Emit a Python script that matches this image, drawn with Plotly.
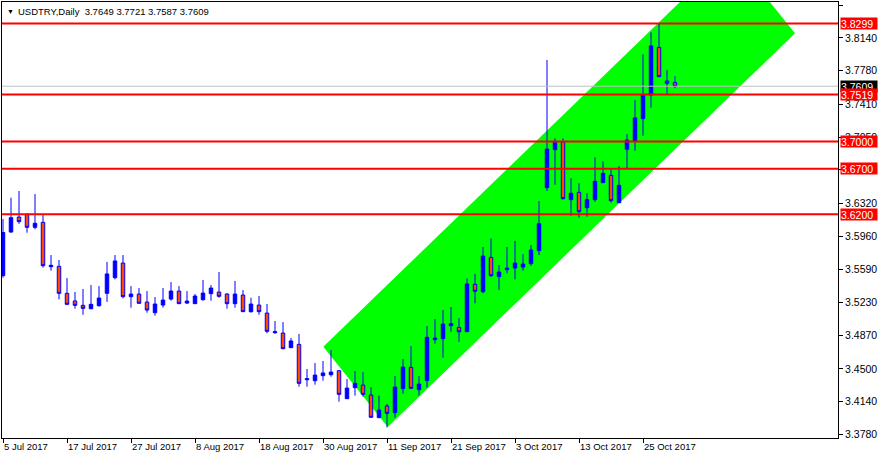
import plotly.graph_objects as go

# ---- data (USDTRY daily, 5 Jul 2017 - 31 Oct 2017) ----
open_ = [3.5525, 3.6005, 3.6170, 3.6200, 3.6057, 3.6112, 3.5624, 3.5628, 3.5331, 3.5247,
         3.5199, 3.5162, 3.5195, 3.5331, 3.5503, 3.5664, 3.5294, 3.5323, 3.5235, 3.5118,
         3.5202, 3.5268, 3.5356, 3.5224, 3.5217, 3.5261, 3.5327, 3.5345, 3.5323, 3.5217,
         3.5312, 3.5129, 3.5202, 3.5114, 3.4898, 3.4894, 3.4733, 3.4770, 3.4380, 3.4370,
         3.4425, 3.4436, 3.4480, 3.4172, 3.4293, 3.4322, 3.4212, 3.3963, 3.4091, 3.4018,
         3.4282, 3.4517, 3.4271, 3.4370, 3.4821, 3.4832, 3.4975, 3.4957, 3.4909, 3.5430,
         3.5349, 3.5727, 3.5514, 3.5591, 3.5609, 3.5620, 3.5657, 3.5800, 3.6493, 3.6911,
         3.6996, 3.6361, 3.6442, 3.6273, 3.6361, 3.6548, 3.6629, 3.6328, 3.6915, 3.7010,
         3.7252, 3.7512, 3.8037, 3.7667, 3.7649]
high = [3.6149, 3.6383, 3.6457, 3.6211, 3.6423, 3.6200, 3.5752, 3.5697, 3.5499, 3.5346,
        3.5378, 3.5422, 3.5411, 3.5676, 3.5752, 3.5752, 3.5411, 3.5389, 3.5356, 3.5290,
        3.5389, 3.5455, 3.5411, 3.5356, 3.5323, 3.5478, 3.5422, 3.5565, 3.5334, 3.5467,
        3.5367, 3.5283, 3.5301, 3.5213, 3.5026, 3.5015, 3.4840, 3.4884, 3.4498, 3.4564,
        3.4586, 3.4707, 3.4487, 3.4388, 3.4476, 3.4465, 3.4300, 3.4205, 3.4113, 3.4421,
        3.4608, 3.4751, 3.4421, 3.4971, 3.5048, 3.5147, 3.5180, 3.5059, 3.5496, 3.5544,
        3.5840, 3.5936, 3.5642, 3.5840, 3.5907, 3.5763, 3.5862, 3.6346, 3.7898, 3.7036,
        3.7036, 3.6596, 3.6541, 3.6431, 3.6827, 3.6783, 3.6698, 3.6731, 3.7083, 3.7457,
        3.7960, 3.8202, 3.8294, 3.7788, 3.7721]
low = [3.5503, 3.5998, 3.6095, 3.5998, 3.6035, 3.5613, 3.5580, 3.5264, 3.5200, 3.5162,
       3.5095, 3.5155, 3.5184, 3.5237, 3.5485, 3.5276, 3.5173, 3.5217, 3.5118, 3.5085,
       3.5173, 3.5250, 3.5213, 3.5213, 3.5217, 3.5250, 3.5250, 3.5283, 3.5162, 3.5173,
       3.5129, 3.5118, 3.5095, 3.4891, 3.4884, 3.4715, 3.4730, 3.4304, 3.4304, 3.4326,
       3.4370, 3.4414, 3.4139, 3.4170, 3.4205, 3.4194, 3.3965, 3.3960, 3.3857, 3.3963,
       3.4227, 3.4282, 3.4205, 3.4293, 3.4777, 3.4623, 3.4908, 3.4797, 3.4905, 3.5221,
       3.5331, 3.5510, 3.5367, 3.5551, 3.5485, 3.5580, 3.5635, 3.5752, 3.6456, 3.6526,
       3.6361, 3.6185, 3.6163, 3.6174, 3.6339, 3.6545, 3.6328, 3.6325, 3.6698, 3.6900,
       3.7065, 3.7373, 3.7710, 3.7512, 3.7587]
close = [3.6000, 3.6163, 3.6119, 3.6057, 3.6101, 3.5635, 3.5639, 3.5331, 3.5210, 3.5199,
         3.5166, 3.5210, 3.5279, 3.5544, 3.5687, 3.5294, 3.5323, 3.5221, 3.5147, 3.5213,
         3.5257, 3.5356, 3.5217, 3.5246, 3.5301, 3.5334, 3.5389, 3.5298, 3.5217, 3.5323,
         3.5129, 3.5213, 3.5129, 3.4913, 3.4909, 3.4722, 3.4807, 3.4341, 3.4391, 3.4432,
         3.4455, 3.4465, 3.4220, 3.4289, 3.4341, 3.4220, 3.3967, 3.4047, 3.4011, 3.4300,
         3.4520, 3.4286, 3.4333, 3.4847, 3.4839, 3.4993, 3.4998, 3.4908, 3.5434, 3.5354,
         3.5741, 3.5525, 3.5565, 3.5609, 3.5664, 3.5653, 3.5807, 3.6097, 3.6918, 3.7003,
         3.6372, 3.6431, 3.6229, 3.6361, 3.6563, 3.6651, 3.6350, 3.6519, 3.7017, 3.7260,
         3.7513, 3.8052, 3.7714, 3.7641, 3.7609]
bars = list(range(len(open_)))

date_tick_bars = [0, 8, 16, 24, 32, 40, 48, 56, 64, 72, 80]
date_labels = ["5 Jul 2017", "17 Jul 2017", "27 Jul 2017", "8 Aug 2017", "18 Aug 2017",
               "30 Aug 2017", "11 Sep 2017", "21 Sep 2017", "3 Oct 2017", "13 Oct 2017",
               "25 Oct 2017"]

price_ticks = [3.8500, 3.8140, 3.7780, 3.7410, 3.7050, 3.6690, 3.6320, 3.5960,
               3.5590, 3.5230, 3.4870, 3.4500, 3.4140, 3.3780]
price_tick_labels = ["%.4f" % v for v in price_ticks]

levels = [3.8299, 3.7519, 3.7000, 3.6700, 3.6200]
last_price = 3.7609

# trend channel (bar index, price)
channel_x = [40.04, 48.09, 99.0, 90.95]
channel_y = [3.4744, 3.3861, 3.8191, 3.9074]

title_text = "USDTRY,Daily\u00a0\u00a03.7649 3.7721 3.7587 3.7609"

FONT = "Liberation Sans, Arial, sans-serif"
AX_SIZE = 10.5

fig = go.Figure()
fig.add_trace(go.Candlestick(
    x=bars, open=open_, high=high, low=low, close=close,
    increasing=dict(fillcolor="#0000FF", line=dict(color="#0000FF", width=1)),
    decreasing=dict(fillcolor="#FF4500", line=dict(color="#0000FF", width=1)),
    whiskerwidth=0, showlegend=False))

channel_path = "M " + " L ".join("%s,%s" % (cx, cy) for cx, cy in zip(channel_x, channel_y)) + " Z"
shapes = [dict(type="path", xref="x", yref="y", path=channel_path,
               fillcolor="#00FF00", line=dict(width=0), layer="below")]
shapes.append(dict(type="line", xref="paper", x0=0, x1=1, yref="y", y0=last_price, y1=last_price,
                   line=dict(color="#C0C0C0", width=1), layer="above"))
for lv in levels:
    shapes.append(dict(type="line", xref="paper", x0=0, x1=1, yref="y", y0=lv, y1=lv,
                       line=dict(color="#FF0000", width=2), layer="above"))

annotations = [
    dict(xref="paper", yref="y", x=1, y=last_price, xanchor="left", yanchor="middle",
         xshift=2, text="%.4f" % last_price, showarrow=False, bgcolor="#000000",
         font=dict(family=FONT, size=AX_SIZE, color="#FFFFFF"), width=36, height=11,
         borderpad=0, align="left"),
]
for lv in levels:
    annotations.append(dict(xref="paper", yref="y", x=1, y=lv, xanchor="left",
                            yanchor="middle", xshift=2, text="%.4f" % lv, showarrow=False,
                            bgcolor="#FF0000", font=dict(family=FONT, size=AX_SIZE, color="#FFFFFF"),
                            width=36, height=11, borderpad=0, align="left"))
annotations.append(dict(xref="paper", yref="paper", x=0, y=1, xanchor="left", yanchor="top",
                        xshift=3, yshift=-4, text="\u25BC", showarrow=False,
                        font=dict(family=FONT, size=7, color="#000000")))
annotations.append(dict(xref="paper", yref="paper", x=0, y=1, xanchor="left", yanchor="top",
                        xshift=14, yshift=-2, text=title_text, showarrow=False,
                        font=dict(family=FONT, size=9.5, color="#000000")))

fig.update_layout(
    width=878, height=459, autosize=False,
    margin=dict(l=2, r=40, t=2, b=21, pad=0),
    paper_bgcolor="#FFFFFF", plot_bgcolor="#FFFFFF",
    boxgap=0.38,
    showlegend=False,
    shapes=shapes, annotations=annotations,
    xaxis=dict(range=[-0.125, 104.375], showgrid=False, zeroline=False,
               showline=True, linecolor="#000000", linewidth=1, mirror=True,
               ticks="outside", ticklen=4, tickcolor="#000000",
               tickvals=date_tick_bars, ticktext=date_labels,
               ticklabelposition="outside right", tickangle=0, automargin=False,
               tickfont=dict(family=FONT, size=9.5, color="#000000"),
               rangeslider=dict(visible=False)),
    yaxis=dict(range=[3.37395, 3.85355], side="right", showgrid=False, zeroline=False,
               showline=True, linecolor="#000000", linewidth=1, mirror=True,
               ticks="outside", ticklen=4, tickcolor="#000000", automargin=False,
               tickvals=price_ticks, ticktext=price_tick_labels,
               tickfont=dict(family=FONT, size=AX_SIZE, color="#000000")),
)

fig.write_html("out.html", config={"displayModeBar": False},
               post_script="document.body.style.margin='0';")
